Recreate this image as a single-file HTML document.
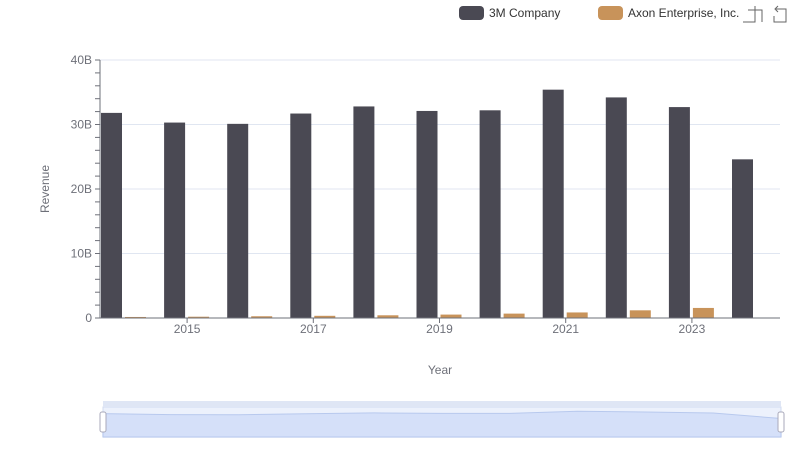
<!DOCTYPE html>
<html><head><meta charset="utf-8"><style>
body{margin:0;background:#fff;font-family:"Liberation Sans",sans-serif;}
svg text{font-family:"Liberation Sans",sans-serif;}
</style></head><body>
<svg width="800" height="461" id="c">
<g id="grid"></g>
<g id="bars"></g>
<g id="axes"></g>
<text x="49" y="189" transform="rotate(-90 49 189)" text-anchor="middle" font-size="12" fill="#6e7079">Revenue</text>
<text x="440" y="374" text-anchor="middle" font-size="12" fill="#6e7079">Year</text>
<g>
<g><rect x="459" y="6" width="25" height="14" rx="4" fill="#4a4953"/><text x="489" y="17" font-size="12" fill="#333">3M Company</text></g>
<g><rect x="598" y="6" width="25" height="14" rx="4" fill="#c8935a"/><text x="628" y="17" font-size="12" fill="#333">Axon Enterprise, Inc.</text></g>
</g>
<g stroke="#666" fill="none"><path d="M748 10h14v12M755 6v16h-12"/></g>
<g stroke="#666" fill="none"><path d="M776 9h10v13h-12v-6M778 6l-3 3 3 3"/></g>
<g>
<rect x="103" y="407" width="678" height="30" fill="none" stroke="#d2dbee"/>
<rect x="103" y="401" width="678" height="6" fill="#dfe6f5"/>
<path id="dzarea" fill="#d9e3fa" stroke="#a9bde8"/>
<rect x="103" y="407" width="678" height="30" fill="#cfdcf8" opacity="0.4"/>
<rect x="100" y="412" width="6" height="20" rx="2" fill="#fff" stroke="#aab"/>
<rect x="778" y="412" width="6" height="20" rx="2" fill="#fff" stroke="#aab"/>
</g>
</svg>
<script>
const years=["2014","2015","2016","2017","2018","2019","2020","2021","2022","2023","2024"];
const mmm=[31.8,30.3,30.1,31.7,32.8,32.1,32.2,35.4,34.2,32.7,24.6];
const axon=[0.16,0.2,0.27,0.34,0.42,0.53,0.68,0.86,1.19,1.56,null];
const yTicks=[0,10,20,30,40];
const yLabels=["0","10B","20B","30B","40B"];
const NS="http://www.w3.org/2000/svg";
const y0=318,yTop=60,ymax=40;
const ys=v=>y0-(v/ymax)*(y0-yTop);
const step=63.1,x0=101;
const xs=i=>x0+step*i;
function mk(tag,attrs,parent){const e=document.createElementNS(NS,tag);for(const k in attrs)e.setAttribute(k,attrs[k]);parent.appendChild(e);return e;}
const grid=document.getElementById('grid'),bars=document.getElementById('bars'),axes=document.getElementById('axes');
yTicks.forEach((t,i)=>{
 if(t>0){const l=mk('line',{x1:100,x2:780,y1:ys(t),y2:ys(t),stroke:'#e0e6f1'},grid);
 
 }
 const tx=mk('text',{x:92,y:ys(t)+4,'text-anchor':'end','font-size':12,fill:'#6e7079'},axes);
 tx.textContent=yLabels[i];
 
 
});
for(let v=0;v<=40;v+=2){mk('line',{x1:95,x2:100,y1:ys(v),y2:ys(v),stroke:'#6e7079'},axes);}
mk('line',{x1:100,x2:100,y1:60,y2:318,stroke:'#6e7079'},axes);
years.forEach((yr,i)=>{
 const b=mk('rect',{x:xs(i),y:ys(mmm[i]),width:21,height:y0-ys(mmm[i]),fill:'#4a4953'},bars);
 
 
 if(axon[i]!=null){const a=mk('rect',{x:xs(i)+24,y:ys(axon[i]),width:21,height:Math.max(1,y0-ys(axon[i])),fill:'#c8935a'},bars);
 
 }
 if(i%2==1){const cx=xs(i)+23;
  mk('line',{x1:cx,x2:cx,y1:318,y2:323,stroke:'#6e7079'},axes);
  const t=mk('text',{x:cx,y:333,'text-anchor':'middle','font-size':12,fill:'#6e7079'},axes);
  t.textContent=yr;
  
  }
});
mk('line',{x1:100,x2:780,y1:318,y2:318,stroke:'#6e7079'},axes);
// slider preview
const dmax=Math.max(...mmm);let d='M103 437';
mmm.forEach((v,i)=>{const x=103+678*i/(mmm.length-1);const y=437-28*(v/dmax)*0.85-2;d+=' L'+x.toFixed(1)+' '+y.toFixed(1);});
d+=' L781 437 Z';document.getElementById('dzarea').setAttribute('d',d);
</script>
</body></html>
